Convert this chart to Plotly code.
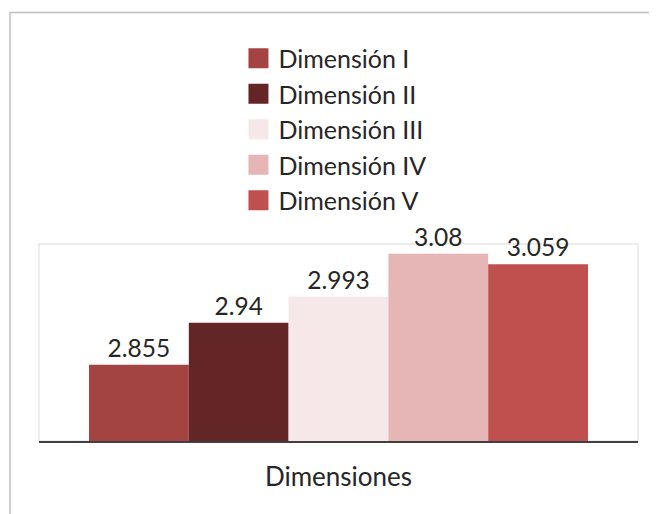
import plotly.graph_objects as go

series_names = ["Dimensión I", "Dimensión II", "Dimensión III", "Dimensión IV", "Dimensión V"]
series_values = [2.855, 2.94, 2.993, 3.08, 3.059]
series_labels = ["2.855", "2.94", "2.993", "3.08", "3.059"]
series_colors = ["#A34442", "#632526", "#F6E8E8", "#E6B5B5", "#C0504D"]
category = ["Dimensiones"]

FONT = "Lato, 'Open Sans', sans-serif"
TXT = "#262626"

fig = go.Figure()
for name, val, lab, col in zip(series_names, series_values, series_labels, series_colors):
    fig.add_trace(go.Bar(
        x=category, y=[val], name=name, marker=dict(color=col, line=dict(width=0)),
        text=[lab], textposition="outside", cliponaxis=False, constraintext="none",
        textfont=dict(family=FONT, size=24.5, color=TXT),
        showlegend=False,
    ))
# legend entries (square swatches)
for name, col in zip(series_names, series_colors):
    fig.add_trace(go.Scatter(
        x=[None], y=[None], mode="markers", name=name,
        marker=dict(symbol="square", size=16, color=col, line=dict(width=4, color=col)),
        showlegend=True,
    ))

# page body has an 8px margin, so the figure is 8px smaller than the window
fig.update_layout(
    width=649, height=506,
    margin=dict(l=31, r=19, t=236, b=72.5, pad=0),
    paper_bgcolor="white", plot_bgcolor="white",
    barmode="group", bargap=0.167, bargroupgap=0,
    font=dict(family=FONT, size=25, color=TXT),
    legend=dict(x=0.333, y=2.058, xanchor="left", yanchor="top",
                bgcolor="rgba(0,0,0,0)", font=dict(family=FONT, size=25, color=TXT),
                itemclick=False, traceorder="normal"),
    xaxis=dict(showticklabels=False, ticks="", showgrid=False, zeroline=False,
               showline=True, linecolor="#404040", linewidth=2,
               title=dict(text="Dimensiones", standoff=26, font=dict(family=FONT, size=26, color=TXT)),
               automargin=False),
    yaxis=dict(range=[2.7, 3.1], showticklabels=False, ticks="", showgrid=False,
               zeroline=False, showline=False, automargin=False),
    shapes=[
        dict(type="rect", xref="paper", yref="paper", x0=0, x1=1, y0=0, y1=1,
             line=dict(color="#E6E6E6", width=1.5), layer="below"),
        dict(type="rect", xref="paper", yref="paper", x0=-0.0484, x1=1.2, y0=-0.6, y1=2.175,
             line=dict(color="#BFBFBF", width=1.5), layer="below"),
    ],
)

fig.write_html("out.html")
